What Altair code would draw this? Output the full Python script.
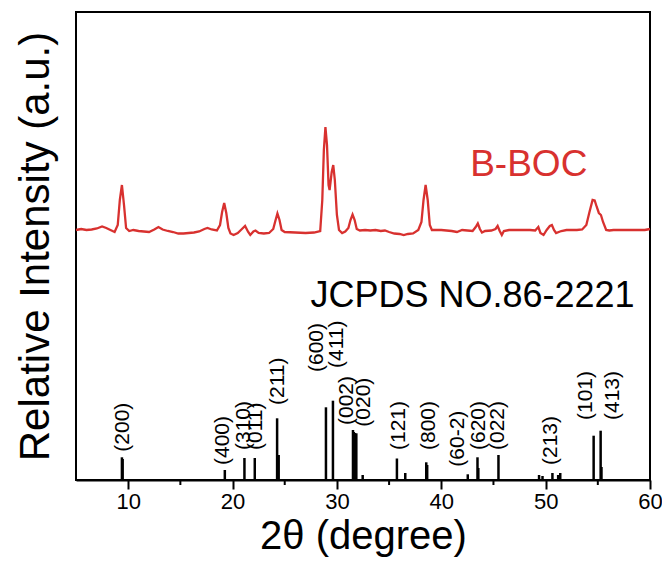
import altair as alt
import pandas as pd

FONT = "Liberation Sans, Arial, sans-serif"

# ---- measured B-BOC pattern (2theta, relative intensity a.u.) ----
two_theta = [5.0, 5.5, 6.0, 6.5, 7.0, 7.5, 7.9, 8.3, 8.7, 9.0, 9.2, 9.4, 9.6, 9.8,
             10.1, 10.5, 11.0, 11.5, 12.0, 12.5, 12.9, 13.3, 13.8, 14.3, 14.8, 15.3,
             15.8, 16.3, 16.8, 17.3, 17.6, 18.0, 18.5, 18.8, 19.0, 19.2, 19.4, 19.6,
             19.8, 20.1, 20.5, 20.9, 21.2, 21.5, 21.7, 22.0, 22.2, 22.5, 23.0, 23.5,
             23.9, 24.1, 24.3, 24.5, 24.7, 25.0, 26.0, 27.0, 27.8, 28.4, 28.6, 28.75,
             28.9, 29.05, 29.2, 29.3, 29.5, 29.65, 29.8, 30.0, 30.2, 30.5, 30.8, 31.1,
             31.3, 31.5, 31.7, 31.9, 32.2, 32.7, 33.2, 33.7, 34.2, 34.6, 35.0, 35.5,
             36.0, 36.4, 36.8, 37.3, 37.8, 38.1, 38.3, 38.5, 38.7, 38.9, 39.1, 39.5,
             40.0, 40.5, 41.0, 41.5, 42.0, 42.5, 43.0, 43.3, 43.5, 43.7, 43.9, 44.2,
             44.8, 45.2, 45.4, 45.6, 45.8, 46.0, 46.5, 47.0, 47.5, 48.0, 48.5, 49.0,
             49.3, 49.5, 49.8, 50.1, 50.4, 50.6, 50.8, 51.0, 51.5, 52.0, 52.5, 53.0,
             53.5, 53.9, 54.2, 54.5, 54.7, 54.9, 55.1, 55.3, 55.5, 55.8, 56.1, 56.5,
             57.0, 57.5, 58.0, 58.5, 59.0, 59.5, 60.0]
intensity = [250, 251, 250, 250.5, 251.5, 253.5, 252, 250, 248, 255, 280, 295, 275, 252,
             249, 250, 249, 248.5, 248, 250.5, 253, 250.5, 249, 248, 246.5, 246.5,
             247, 247.5, 248.5, 251, 252, 250.5, 249.5, 255, 268, 277, 267, 252,
             246.5, 245, 247, 251, 254, 248, 245, 248.5, 249.5, 247, 246.5, 247,
             251, 259, 266.5, 260, 250, 248, 247.5, 247, 247.5, 249, 280, 330,
             353, 335, 295, 290, 308, 315, 300, 265, 250, 247, 248.5, 252,
             260, 265.5, 260, 251, 249.5, 250, 249.5, 250, 249, 249.5, 248, 246.5,
             246, 245, 246, 246.5, 250, 258, 280, 295, 280, 255, 250, 250,
             250, 249.5, 249, 248, 250, 249.5, 249, 253, 256.5, 251, 247.5, 249,
             249.5, 251, 254, 249, 245, 249, 250, 250, 250, 250, 250, 249.5,
             253, 247, 245, 250, 254, 255, 250, 247, 249, 250, 250, 250,
             250.5, 255, 268, 280, 279.5, 273, 267, 265, 258, 250, 249.5, 250,
             250, 250, 250, 250, 250, 250, 251]

# ---- JCPDS 86-2221 reference lines ----
stick_pos = [9.40, 9.47, 19.26, 21.14, 22.13, 24.27, 24.42, 28.95, 29.62, 31.54, 31.62,
             31.72, 31.86, 32.47, 35.75, 36.55, 38.56, 38.65, 42.54, 43.47, 43.55,
             45.48, 49.37, 49.70, 50.65, 51.20, 51.40, 54.60, 55.27, 55.35]
stick_int = [22.7, 21.0, 10, 22, 22, 61.7, 25, 72.7, 79.3, 50, 48,
             47, 46.7, 5, 21.5, 7, 17.7, 15, 5.7, 22.7, 12,
             25, 5, 4, 7, 5, 7, 44.3, 49.3, 13]

label_text = ["(200)", "(400)", "(310)", "(011)", "(211)", "(600)", "(411)", "(002)",
              "(020)", "(121)", "(800)", "(60-2)", "(620)", "(022)", "(213)", "(101)",
              "(413)"]
label_pos = [9.50, 19.07, 21.14, 22.20, 24.36, 28.11, 29.98, 30.93, 32.61, 35.91,
             38.78, 41.65, 43.66, 45.48, 50.48, 53.83, 56.48]
label_int = [28.3, 15, 30, 30, 75, 108, 112, 55, 53.3, 30, 30, 13.3, 30, 30, 15, 60, 60]

annot_text = ["B-BOC", "JCPDS NO.86-2221"]
annot_pos = [42.77, 27.46]
annot_int = [304, 173.3]
annot_size = [37, 36]
annot_color = ["#d8312f", "#000000"]

major_ticks = [10, 20, 30, 40, 50, 60]
minor_ticks = [15, 25, 35, 45, 55]

curve = pd.DataFrame({"two_theta": two_theta, "intensity": intensity})
sticks = pd.DataFrame({"two_theta": stick_pos, "intensity": stick_int})
labels = pd.DataFrame({"two_theta": label_pos, "intensity": label_int, "hkl": label_text})
annots = pd.DataFrame({"two_theta": annot_pos, "intensity": annot_int,
                       "txt": annot_text, "col": annot_color, "size": annot_size})
minor = pd.DataFrame({"two_theta": minor_ticks})

x_scale = alt.Scale(domain=[5, 60], nice=False, zero=False)
y_scale = alt.Scale(domain=[0, 468], nice=False, zero=True)

x_axis = alt.Axis(values=major_ticks, tickSize=9, title="2θ (degree)", grid=False,
                  labelFlush=False)
y_axis = alt.Axis(labels=False, ticks=False, domain=False, grid=False,
                  title="Relative Intensity (a.u.)")

line = alt.Chart(curve).mark_line(color="#d8312f", strokeWidth=2.3).encode(
    x=alt.X("two_theta:Q", scale=x_scale, axis=x_axis),
    y=alt.Y("intensity:Q", scale=y_scale, axis=y_axis),
)

rules = alt.Chart(sticks).mark_rule(color="black", strokeWidth=2.5).encode(
    x=alt.X("two_theta:Q"),
    y=alt.Y("intensity:Q"),
    y2=alt.datum(0),
)

minor_rules = alt.Chart(minor).mark_rule(color="black", strokeWidth=2).encode(
    x=alt.X("two_theta:Q"),
    y=alt.value(468),
    y2=alt.value(473),
)

hkl = alt.Chart(labels).mark_text(
    angle=270, align="left", baseline="middle", fontSize=21, font=FONT, color="black"
).encode(
    x=alt.X("two_theta:Q"),
    y=alt.Y("intensity:Q"),
    text="hkl:N",
)

notes = alt.Chart(annots).mark_text(
    align="left", baseline="alphabetic", font=FONT
).encode(
    x=alt.X("two_theta:Q"),
    y=alt.Y("intensity:Q"),
    text="txt:N",
    color=alt.Color("col:N", scale=None),
    size=alt.Size("size:Q", scale=None),
)

chart = alt.layer(line, rules, minor_rules, hkl, notes).properties(
    width=574, height=468,
    padding={"left": 68, "top": 4, "right": 12, "bottom": 82},
    autosize=alt.AutoSizeParams(type="none"),
    background="white",
).configure_view(
    stroke="black", strokeWidth=2
).configure_axis(
    domainColor="black", domainWidth=2, tickColor="black", tickWidth=2,
    labelFont=FONT, labelColor="black",
    titleFont=FONT, titleFontWeight="normal", titleColor="black",
).configure_axisX(
    labelFontSize=22, labelPadding=2, titleFontSize=40, titlePadding=4
).configure_axisY(titleFontSize=42, titlePadding=19)

chart.save("out.html", embed_options={"renderer": "svg", "actions": False})
